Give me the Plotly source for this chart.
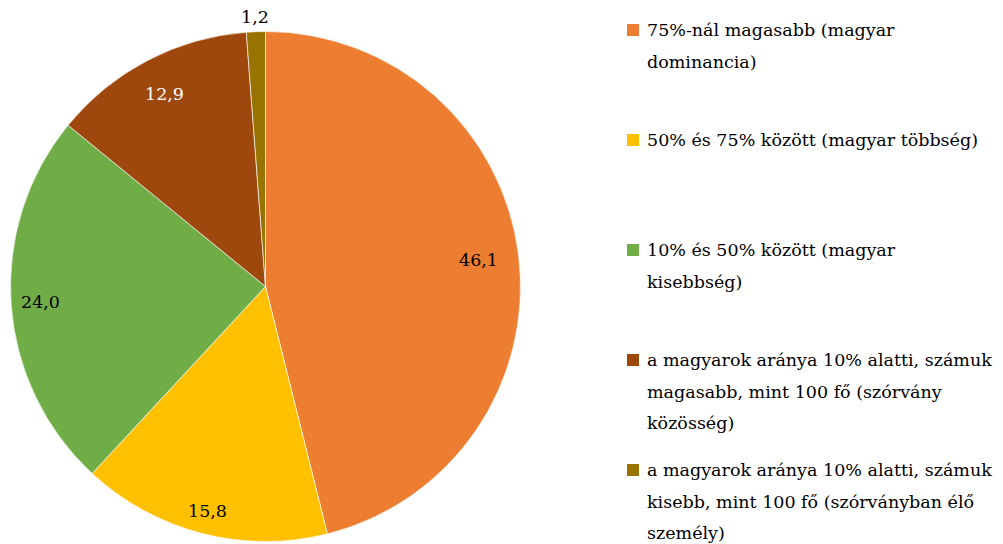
import math
import plotly.graph_objects as go

# ---- data ----
categories = [
    "75%-nál magasabb (magyar dominancia)",
    "50% és 75% között (magyar többség)",
    "10% és 50% között (magyar kisebbség)",
    "a magyarok aránya 10% alatti, számuk magasabb, mint 100 fő (szórvány közösség)",
    "a magyarok aránya 10% alatti, számuk kisebb, mint 100 fő (szórványban élő személy)",
]
legend_lines = [
    ["75%-nál magasabb (magyar", "dominancia)"],
    ["50% és 75% között (magyar többség)"],
    ["10% és 50% között (magyar", "kisebbség)"],
    ["a magyarok aránya 10% alatti, számuk", "magasabb, mint 100 fő (szórvány", "közösség)"],
    ["a magyarok aránya 10% alatti, számuk", "kisebb, mint 100 fő (szórványban élő", "személy)"],
]
values = [46.1, 15.8, 24.0, 12.9, 1.2]

# ---- style ----
colors = ["#ED7D31", "#FFC000", "#70AD47", "#9E480E", "#997300"]
label_colors = ["#000000", "#000000", "#000000", "#FFFFFF", "#000000"]
label_radius = [0.843, 0.91, 0.885, 0.853, 1.056]  # fraction of pie radius
FONT = "DejaVu Serif"
FS = 17.5

OFF = 8  # page body margin
W, H = 1003 - OFF, 544 - OFF
cx, cy, R = 265.5 - OFF, 286.5 - OFF, 255.0  # pie centre / radius in figure pixels


def px2paper(x, y):
    return x / W, 1 - y / H


fig = go.Figure(go.Pie(
    labels=categories,
    values=values,
    sort=False,
    direction="clockwise",
    rotation=0,
    marker=dict(colors=colors, line=dict(color="rgba(255,255,255,0.8)", width=0.8)),
    textinfo="none",
    hoverinfo="label+value",
    showlegend=False,
    domain=dict(x=[(cx - R) / W, (cx + R) / W], y=[(H - cy - R) / H, (H - cy + R) / H]),
))

annotations = []
shapes = []
total = sum(values)
cum = 0.0
for i, v in enumerate(values):
    mid = (cum + v / 2) / total * 2 * math.pi
    cum += v
    frac = label_radius[i]
    x, y = px2paper(cx + frac * R * math.sin(mid), cy - frac * R * math.cos(mid))
    annotations.append(dict(
        x=x, y=y, xref="paper", yref="paper",
        text=f"{v:.1f}".replace(".", ","), showarrow=False,
        font=dict(family=FONT, size=FS, color=label_colors[i]),
        xanchor="center", yanchor="middle",
    ))

# legend drawn as text + squares
lx_sq, lx_txt = 627 - OFF, 645 - OFF
step, top0, line_h = 110, 30 - OFF, 31.5
for i, lines in enumerate(legend_lines):
    y0 = top0 + i * step
    x0p, y0p = px2paper(lx_sq, y0 + 6)
    x1p, y1p = px2paper(lx_sq + 12, y0 - 6)
    shapes.append(dict(type="rect", xref="paper", yref="paper",
                       x0=x0p, x1=x1p, y0=y0p, y1=y1p,
                       fillcolor=colors[i], line=dict(width=0)))
    for j, t in enumerate(lines):
        tx, ty = px2paper(lx_txt, y0 + j * line_h)
        annotations.append(dict(
            x=tx, y=ty, xref="paper", yref="paper",
            text=t, showarrow=False, xanchor="left", yanchor="middle",
            font=dict(family=FONT, size=FS, color="#000000"),
        ))

fig.update_layout(
    width=W, height=H,
    margin=dict(l=0, r=0, t=0, b=0),
    paper_bgcolor="white", plot_bgcolor="white",
    annotations=annotations, shapes=shapes,
)
fig.write_html("out.html")
